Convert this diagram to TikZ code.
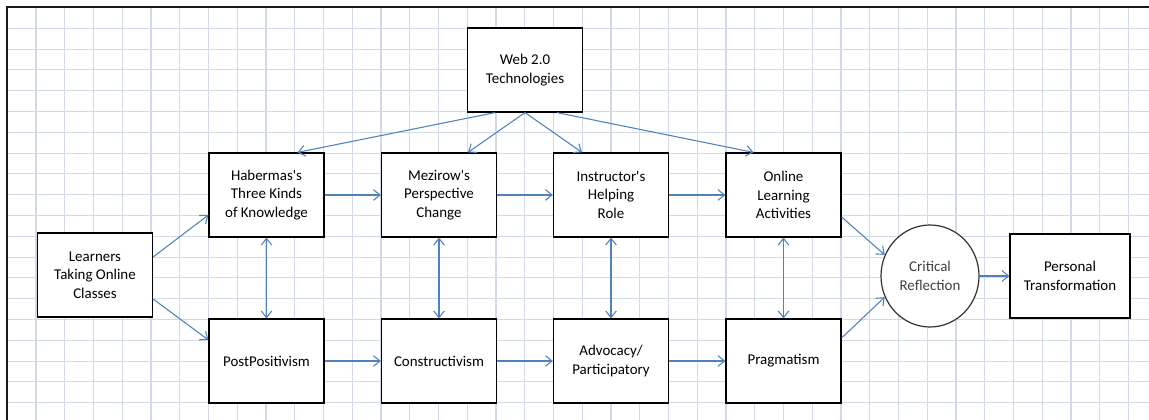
\documentclass[tikz,border=0pt]{standalone}
\usepackage{fontspec}
\setmainfont{Carlito}
\usepackage{tikz}
\usetikzlibrary{shapes.geometric}
\usetikzlibrary{arrows.meta}
\usetikzlibrary{calc, positioning}
\definecolor{gridblue}{RGB}{210,218,234}
\definecolor{linkblue}{RGB}{79,129,189}
\tikzset{
	>={Straight Barb[length=5pt,width=8pt]},
	box/.style={draw=black, line width=0.9pt, fill=white, minimum width=86.25pt, minimum height=63pt, inner sep=0pt, align=center, font=\fontsize{11.2}{13.9}\selectfont},
	link/.style={draw=linkblue, line width=0.8pt, ->},
	gridline/.style={draw=gridblue, line width=0.8pt}
}

\begin{document}
\begin{tikzpicture}[x=0.75pt, y=-0.75pt]
	\useasboundingbox (0,0) rectangle (1149,420);
	\foreach \i in {1,...,39} \draw[gridline] ({7.25+28.75*\i}, 7) -- ({7.25+28.75*\i}, 420);
	\foreach \j in {1,...,19} \draw[gridline] (7, {7.5+20.8*\j}) -- (1149, {7.5+20.8*\j});
	\draw[line width=2pt, black!90] (7,420) -- (7,7) -- (1149,7);
	\node[box] (web) at (525, 70) {Web 2.0\\Technologies};
	\node[box] (learners) at (95, 275) {Learners\\Taking Online\\Classes};
	\node[box] (habermas) at (266.5, 195) {Habermas\textquotesingle s\\Three Kinds\\of Knowledge};
	\node[box] (mezirow) at (439, 195) {Mezirow\textquotesingle s\\Perspective\\Change};
	\node[box] (instructor) at (611, 195) {Instructor\textquotesingle s\\Helping\\Role};
	\node[box] (online) at (783.5, 195) {Online\\Learning\\Activities};
	\node[box] (postpos) at (266.5, 361) {PostPositivism};
	\node[box] (construct) at (439, 361) {Constructivism};
	\node[box] (advocacy) at (611, 361) {Advocacy/\\Participatory};
	\node[box] (pragmatism) at (783.5, 361) {Pragmatism};
	\node[box, ellipse, draw=black!80, minimum width=73.5pt, minimum height=76.5pt, text=black!75] (critical) at (930, 276) {Critical\\Reflection};
	\node[box, minimum width=90pt] (personal) at (1070, 276) {Personal\\Transformation};
	\draw[link] ($(web.south)+(-30,0)$) -- ($(habermas.north)+(31,0)$);
	\draw[link] (web.south) -- ($(mezirow.north)+(29,0)$);
	\draw[link] (web.south) -- ($(instructor.north)+(-29,0)$);
	\draw[link] ($(web.south)+(32,0)$) -- ($(online.north)+(-30,0)$);
	\draw[link] ($(learners.east)+(0,-18)$) -- ($(habermas.west)+(0,20)$);
	\draw[link] ($(learners.east)+(0,24)$) -- ($(postpos.west)+(0,-21)$);
	\draw[link] (habermas) -- (mezirow);
	\draw[link] (mezirow) -- (instructor);
	\draw[link] (instructor) -- (online);
	\draw[link] (postpos) -- (construct);
	\draw[link] (construct) -- (advocacy);
	\draw[link] (advocacy) -- (pragmatism);
	\draw[link, <->] (habermas) -- (postpos);
	\draw[link, <->] (mezirow) -- (construct);
	\draw[link, <->] (instructor) -- (advocacy);
	\draw[link, <->] (online) -- (pragmatism);
	\draw[link] ($(online.east)+(0,22)$) -- (critical.155);
	\draw[link] ($(pragmatism.east)+(0,-23)$) -- (critical.205);
	\draw[link] (critical) -- (personal);
\end{tikzpicture}
\end{document}
